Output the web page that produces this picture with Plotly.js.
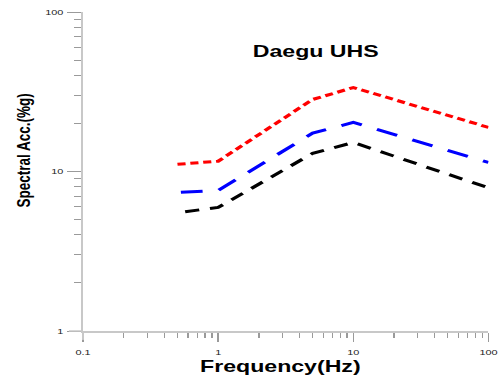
<!DOCTYPE html>
<html>
<head>
<meta charset="utf-8">
<script src="https://cdn.plot.ly/plotly-3.0.1.min.js"></script>
<style>
  html, body { margin: 0; padding: 0; overflow: hidden; background: #fff; }
  #wrap { width: 366px; height: 381px; transform: scaleX(1.36066); transform-origin: 0 0; }
</style>
</head>
<body>
<div id="wrap"><div id="chart"></div></div>
<script>
// Frequency (Hz) and spectral acceleration (%g)
const freqRed   = [0.5, 1, 5, 10, 100];
const accRed    = [11.1, 11.6, 28.3, 33.6, 18.9];
const freqBlue  = [0.53, 1, 5, 10, 100];
const accBlue   = [7.4, 7.6, 17.4, 20.3, 11.4];
const freqBlack = [0.57, 1, 5, 10, 100];
const accBlack  = [5.6, 5.95, 13.0, 15.2, 7.9];

const chartTitle = 'Daegu UHS';
const xTitle = 'Frequency(Hz)';
const yTitle = 'Spectral Acc.(%g)';

const axisLine = '#c8c8c8';
const tickCol = '#9a9a9a';
const tickFont = {family: 'Liberation Sans, Arial, sans-serif', size: 8, color: '#222'};
const boldFont = 'Liberation Sans, Arial, sans-serif';

const traces = [
  {x: freqRed, y: accRed, mode: 'lines', line: {color: '#ff0000', width: 3, dash: '6px,3.5px'}},
  {x: freqBlue, y: accBlue, mode: 'lines', line: {color: '#0000ff', width: 3, dash: '16px,12px'}},
  {x: freqBlack, y: accBlack, mode: 'lines', line: {color: '#000000', width: 3, dash: '10.5px,8px'}}
];

const layout = {
  width: 366, height: 381,
  margin: {l: 61, r: 7.4, t: 12, b: 50},
  paper_bgcolor: '#fff', plot_bgcolor: '#fff',
  showlegend: false,
  title: {text: '<b>' + chartTitle + '</b>', font: {family: boldFont, size: 17, color: '#000'},
          xref: 'container', x: 0.634, xanchor: 'center', yref: 'container', y: 0.866, yanchor: 'middle'},
  xaxis: {
    type: 'log', range: [-1, 2], dtick: 1,
    showgrid: false, zeroline: false,
    showline: true, linecolor: axisLine, linewidth: 1.5,
    ticks: 'outside', ticklen: 9, tickwidth: 1, tickcolor: tickCol,
    minor: {ticks: 'outside', ticklen: 5, tickwidth: 1, tickcolor: tickCol, dtick: 'D1', showgrid: false},
    tickfont: tickFont, ticklabelstandoff: 4, ticklabeloverflow: 'allow'
  },
  yaxis: {
    type: 'log', range: [0, 2], dtick: 1,
    showgrid: false, zeroline: false,
    showline: true, linecolor: axisLine, linewidth: 1.5,
    ticks: 'outside', ticklen: 10.3, tickwidth: 1, tickcolor: tickCol,
    minor: {ticks: 'outside', ticklen: 5.1, tickwidth: 1, tickcolor: tickCol, dtick: 'D1', showgrid: false},
    tickfont: tickFont, ticklabelstandoff: 1, ticklabeloverflow: 'allow'
  },
  annotations: [
    {text: '<b>' + xTitle + '</b>', xref: 'paper', yref: 'paper', x: 0.485, y: -0.112,
     xanchor: 'center', yanchor: 'middle', showarrow: false, font: {family: boldFont, size: 17, color: '#000'}},
    {text: '<b>' + yTitle + '</b>', xref: 'paper', yref: 'paper', x: -0.146, y: 0.567, textangle: -90,
     xanchor: 'center', yanchor: 'middle', showarrow: false, font: {family: boldFont, size: 13.5, color: '#000'}}
  ],
  shapes: [
    {type: 'line', xref: 'paper', yref: 'paper', x0: -0.0346, x1: 0, y0: 0, y1: 0, line: {color: axisLine, width: 1.5}},
    {type: 'line', xref: 'paper', yref: 'paper', x0: 0, x1: 0, y0: -0.028, y1: 0, line: {color: axisLine, width: 1.5}}
  ]
};

Plotly.newPlot('chart', traces, layout, {displayModeBar: false, staticPlot: true});
</script>
</body>
</html>
